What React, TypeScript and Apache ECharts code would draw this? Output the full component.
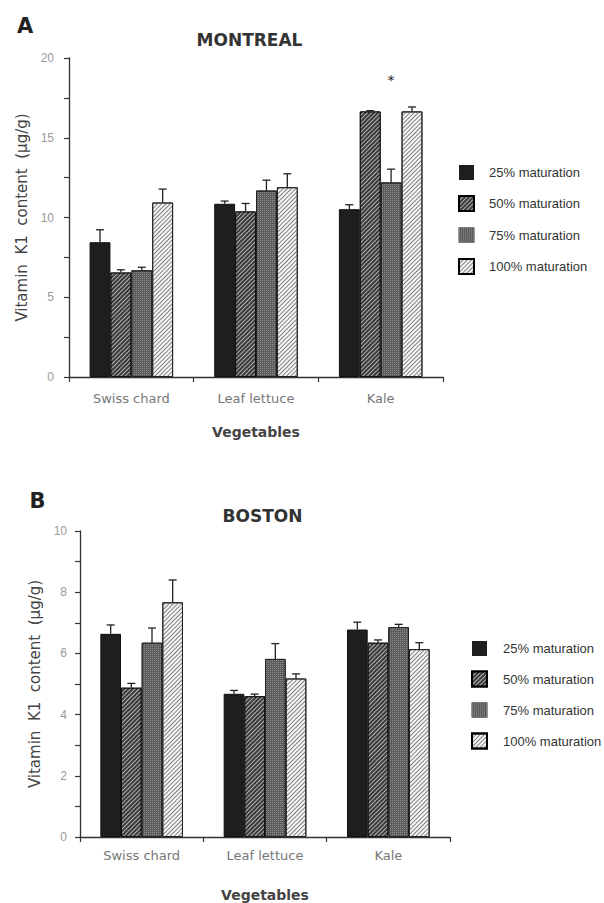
import React, { useEffect, useRef } from 'react';
import * as echarts from 'echarts';

// ---------- data ----------
const categories = ['Swiss chard', 'Leaf lettuce', 'Kale'];
const maturationLevels = ['25% maturation', '50% maturation', '75% maturation', '100% maturation'];

// Montreal: means per maturation level (Swiss chard, Leaf lettuce, Kale)
const montreal25 = [8.45, 10.86, 10.52];
const montreal50 = [6.55, 10.38, 16.65];
const montreal75 = [6.69, 11.69, 12.2];
const montreal100 = [10.94, 11.9, 16.65];
// Montreal: standard errors
const montreal25SE = [0.78, 0.17, 0.28];
const montreal50SE = [0.17, 0.5, 0.05];
const montreal75SE = [0.19, 0.65, 0.83];
const montreal100SE = [0.84, 0.84, 0.28];
// significance marks (75% series) and their level
const montreal75Marks = ['', '', '*'];
const montrealMarkLevel = 18.6;

// Boston: means
const boston25 = [6.64, 4.68, 6.78];
const boston50 = [4.88, 4.6, 6.35];
const boston75 = [6.35, 5.82, 6.86];
const boston100 = [7.67, 5.18, 6.14];
// Boston: standard errors
const boston25SE = [0.29, 0.11, 0.24];
const boston50SE = [0.14, 0.07, 0.09];
const boston75SE = [0.48, 0.5, 0.09];
const boston100SE = [0.73, 0.15, 0.21];

const montrealTicks = { min: 0, max: 20, step: 2.5, labelEvery: 5 };
const bostonTicks = { min: 0, max: 10, step: 1, labelEvery: 2 };

const montrealMeans = [montreal25, montreal50, montreal75, montreal100];
const montrealSE = [montreal25SE, montreal50SE, montreal75SE, montreal100SE];
const montrealMarks = [null, null, montreal75Marks, null];
const bostonMeans = [boston25, boston50, boston75, boston100];
const bostonSE = [boston25SE, boston50SE, boston75SE, boston100SE];

// ---------- styles ----------
const FONT = 'DejaVu Sans';
const LFONT = 'Liberation Sans';
const GAP = 0.33;

const barStyles: any[] = [
  { color: '#1e1e1e', borderColor: '#111', borderWidth: 1 },
  {
    color: '#3a3a3a', borderColor: '#111', borderWidth: 1,
    decal: { symbol: 'rect', symbolSize: 1, color: '#b0b0b0', dashArrayX: [1, 0], dashArrayY: [1, 2], rotation: -Math.PI / 4 },
  },
  {
    color: '#5c5c5c', borderColor: '#222', borderWidth: 1,
    decal: { symbol: 'rect', symbolSize: 1, color: '#8c8c8c', dashArrayX: [1, 1], dashArrayY: [1, 1], rotation: 0 },
  },
  {
    color: '#f6f6f6', borderColor: '#222', borderWidth: 1,
    decal: { symbol: 'rect', symbolSize: 1, color: '#808080', dashArrayX: [1, 0], dashArrayY: [1, 2], rotation: -Math.PI / 4 },
  },
];
const legendBorders: any[] = [
  { borderWidth: 0 },
  { borderWidth: 2, borderColor: '#000' },
  { borderWidth: 1, borderColor: '#777' },
  { borderWidth: 2, borderColor: '#000' },
];

function makeErr(i: number, marks: string[] | null, markLevel: number) {
  return (params: any, api: any) => {
    const ci = api.value(0);
    const m = api.value(1);
    const hi = api.value(2);
    const p0 = api.coord([ci, m]);
    const p1 = api.coord([ci, hi]);
    const band = api.size([1, 0])[0];
    const bw = (band * (1 - GAP)) / 4;
    const x = p0[0] + (i - 1.5) * bw;
    const children: any[] = [
      { type: 'line', shape: { x1: x, y1: p0[1], x2: x, y2: p1[1] }, style: { stroke: '#222', lineWidth: 1.3 } },
      { type: 'line', shape: { x1: x - 4, y1: p1[1], x2: x + 4, y2: p1[1] }, style: { stroke: '#222', lineWidth: 1.3 } },
    ];
    if (marks && marks[ci]) {
      const ps = api.coord([ci, markLevel]);
      children.push({
        type: 'text', x, y: ps[1],
        style: { text: marks[ci], textAlign: 'center', textVerticalAlign: 'middle', fontSize: 14, fontFamily: FONT, fill: '#222' },
      });
    }
    return { type: 'group', children };
  };
}

function xAxisOf(gridIndex: number, labelMargin: number, nameGap: number) {
  return {
    type: 'category', gridIndex, data: categories,
    axisLine: { show: true, lineStyle: { color: '#333', width: 1.3 } },
    axisTick: { show: true, length: 5, lineStyle: { color: '#333', width: 1.2 } },
    axisLabel: { margin: labelMargin, color: '#777', fontSize: 13, fontFamily: FONT },
    name: 'Vegetables', nameLocation: 'middle', nameGap,
    nameTextStyle: { fontFamily: FONT, fontSize: 14, fontWeight: 'bold', color: '#444' },
  };
}

function yAxisOf(gridIndex: number, t: any, labelMargin: number, nameGap: number) {
  return {
    type: 'value', gridIndex, min: t.min, max: t.max, interval: t.step,
    axisLine: { show: true, lineStyle: { color: '#333', width: 1.3 } },
    axisTick: { show: true, length: 5, lineStyle: { color: '#333', width: 1.2 } },
    splitLine: { show: false },
    axisLabel: {
      margin: labelMargin, color: '#999', fontSize: 12, fontFamily: LFONT,
      formatter: (v: number) => (Math.abs(v % t.labelEvery) < 1e-9 ? String(v) : ''),
    },
    name: 'Vitamin  K1  content  (µg/g)', nameLocation: 'middle', nameGap,
    nameTextStyle: { fontFamily: FONT, fontSize: 15, color: '#444' },
  };
}

function seriesFor(gridIndex: number, means: number[][], ses: number[][], marks: any[], markLevel: number) {
  const out: any[] = [];
  maturationLevels.forEach((name, i) => {
    out.push({
      type: 'bar', name, xAxisIndex: gridIndex, yAxisIndex: gridIndex,
      data: means[i], barGap: '0%', barCategoryGap: GAP * 100 + '%',
      itemStyle: barStyles[i], silent: true, emphasis: { disabled: true },
    });
  });
  maturationLevels.forEach((name, i) => {
    out.push({
      type: 'custom', name: 'err' + gridIndex + '-' + i, xAxisIndex: gridIndex, yAxisIndex: gridIndex,
      data: categories.map((c, ci) => [ci, means[i][ci], means[i][ci] + ses[i][ci]]),
      encode: { x: 0, y: 1 },
      renderItem: makeErr(i, marks[i], markLevel), z: 5, silent: true,
    });
  });
  return out;
}

function legendOf(left: number, top: number, gap: number, pad: number) {
  return {
    orient: 'vertical', left, top, itemWidth: 15, itemHeight: 15, itemGap: gap, icon: 'rect',
    selectedMode: false,
    data: maturationLevels.map((name, i) => ({ name, itemStyle: legendBorders[i] })),
    textStyle: { fontFamily: LFONT, fontSize: 13, color: '#333', padding: [0, 0, 0, pad] },
  };
}

export default function App() {
  const ref = useRef<HTMLDivElement>(null);
  useEffect(() => {
    if (!ref.current) return;
    const chart = echarts.init(ref.current, undefined, { renderer: 'svg' });
    const option: any = {
      animation: false,
      backgroundColor: '#ffffff',
      grid: [
        { left: 69, top: 58, width: 374, height: 319 },
        { left: 80, top: 531, width: 370, height: 307 },
      ],
      xAxis: [xAxisOf(0, 15, 48), xAxisOf(1, 12, 51)],
      yAxis: [yAxisOf(0, montrealTicks, 15, 32), yAxisOf(1, bostonTicks, 13, 32)],
      legend: [legendOf(453, 160, 15, 10), legendOf(466, 636, 14.5, 11)],
      graphic: [
        { type: 'text', x: 25, y: 26, style: { text: 'A', textAlign: 'center', textVerticalAlign: 'middle', fontFamily: FONT, fontSize: 21, fontWeight: 'bold', fill: '#222' } },
        { type: 'text', x: 249.5, y: 39.5, style: { text: 'MONTREAL', textAlign: 'center', textVerticalAlign: 'middle', fontFamily: FONT, fontSize: 17, fontWeight: 'bold', fill: '#333' } },
        { type: 'text', x: 37.5, y: 501, style: { text: 'B', textAlign: 'center', textVerticalAlign: 'middle', fontFamily: FONT, fontSize: 21, fontWeight: 'bold', fill: '#222' } },
        { type: 'text', x: 262.5, y: 516, style: { text: 'BOSTON', textAlign: 'center', textVerticalAlign: 'middle', fontFamily: FONT, fontSize: 17, fontWeight: 'bold', fill: '#333' } },
      ],
      series: [
        ...seriesFor(0, montrealMeans, montrealSE, montrealMarks, montrealMarkLevel),
        ...seriesFor(1, bostonMeans, bostonSE, [null, null, null, null], 0),
      ],
    };
    chart.setOption(option);
    return () => chart.dispose();
  }, []);
  return (
    <div
      ref={ref}
      style={{ position: 'absolute', left: 0, top: 0, width: 604, height: 903, background: '#fff' }}
    />
  );
}
